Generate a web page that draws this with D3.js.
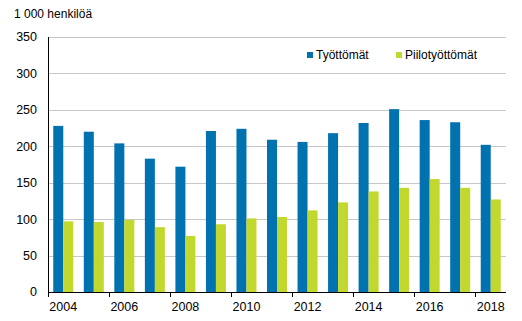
<!DOCTYPE html>
<html>
<head>
<meta charset="utf-8">
<script src="https://cdn.jsdelivr.net/npm/d3@7"></script>
<style>
  body { margin: 0; background: #fff; }
  svg { display: block; font-family: "Liberation Sans", Arial, sans-serif; }
</style>
</head>
<body>
<div id="chart"></div>
<script>
// Työttömät ja piilotyöttömät, 1 000 henkilöä
const years = [2004, 2005, 2006, 2007, 2008, 2009, 2010, 2011, 2012, 2013, 2014, 2015, 2016, 2017, 2018];
const tyottomat = [228, 220, 204, 183, 172, 221, 224, 209, 206, 218, 232, 251, 236, 233, 202];
const piilotyottomat = [97, 96, 99, 89, 77, 93, 101, 103, 112, 123, 138, 143, 155, 143, 127];
const seriesNames = ['Työttömät', 'Piilotyöttömät'];
const colors = ['#0072b0', '#c2d82f'];
const yTicks = [0, 50, 100, 150, 200, 250, 300, 350];

const width = 522, height = 321;
const margin = { top: 37, right: 16, bottom: 29, left: 48 };
const innerW = width - margin.left - margin.right;
const innerH = height - margin.top - margin.bottom;

const svg = d3.select('#chart').append('svg')
    .attr('width', width)
    .attr('height', height);

const g = svg.append('g')
    .attr('transform', `translate(${margin.left},${margin.top})`);

const x = d3.scaleBand()
    .domain(years)
    .range([0, innerW])
    .paddingInner(0.345)
    .paddingOuter(0.1725);

const xInner = d3.scaleBand()
    .domain(seriesNames)
    .range([0, x.bandwidth()]);

const y = d3.scaleLinear()
    .domain([0, 350])
    .range([innerH, 0]);

// gridlines
g.append('g')
    .selectAll('line')
    .data(yTicks.filter(d => d > 0))
    .enter()
    .append('line')
    .attr('x1', 0)
    .attr('x2', innerW)
    .attr('y1', d => Math.round(y(d)) + 0.5)
    .attr('y2', d => Math.round(y(d)) + 0.5)
    .style('stroke', '#c8c8c8')
    .style('stroke-width', 1);

// y labels
g.append('g')
    .selectAll('text')
    .data(yTicks)
    .enter()
    .append('text')
    .attr('x', -11)
    .attr('y', d => y(d))
    .attr('dy', '0.35em')
    .attr('text-anchor', 'end')
    .style('font-size', '12.5px')
    .style('fill', '#000')
    .text(d => d);

// bars
const data = years.map((yr, i) => ({ year: yr, values: [tyottomat[i], piilotyottomat[i]] }));

const groups = g.append('g')
    .selectAll('g')
    .data(data)
    .enter()
    .append('g')
    .attr('transform', d => `translate(${x(d.year)},0)`);

groups.selectAll('rect')
    .data(d => d.values.map((v, k) => ({ key: seriesNames[k], value: v, k: k })))
    .enter()
    .append('rect')
    .attr('x', d => xInner(d.key))
    .attr('width', xInner.bandwidth())
    .attr('y', d => y(d.value))
    .attr('height', d => innerH - y(d.value))
    .style('fill', d => colors[d.k]);

// axes lines
const step = x.step();
g.append('line')
    .attr('x1', 0.5).attr('x2', 0.5)
    .attr('y1', 0).attr('y2', innerH + 5)
    .style('stroke', '#000');
g.append('line')
    .attr('x1', 0).attr('x2', innerW)
    .attr('y1', innerH + 0.5).attr('y2', innerH + 0.5)
    .style('stroke', '#000');

// ticks every second year, at left edge of the category
const labelYears = years.filter(yr => yr % 2 === 0);
g.append('g')
    .selectAll('line')
    .data(labelYears.slice(1))
    .enter()
    .append('line')
    .attr('x1', d => Math.round(x(d) - (step - x.bandwidth()) / 2) + 0.5)
    .attr('x2', d => Math.round(x(d) - (step - x.bandwidth()) / 2) + 0.5)
    .attr('y1', innerH)
    .attr('y2', innerH + 5)
    .style('stroke', '#000');

g.append('g')
    .selectAll('text')
    .data(labelYears)
    .enter()
    .append('text')
    .attr('x', d => x(d) + x.bandwidth() / 2)
    .attr('y', innerH + 19)
    .attr('text-anchor', 'middle')
    .style('font-size', '12.5px')
    .style('fill', '#000')
    .text(d => d);

// unit title
svg.append('text')
    .attr('x', 14)
    .attr('y', 18)
    .style('font-size', '12px')
    .style('fill', '#000')
    .text('1 000 henkilöä');

// legend
const legendX = [307, 396];
const legend = svg.append('g')
    .selectAll('g')
    .data(seriesNames)
    .enter()
    .append('g')
    .attr('transform', (d, i) => `translate(${legendX[i]},52)`);

legend.append('rect')
    .attr('width', 6)
    .attr('height', 6)
    .style('fill', (d, i) => colors[i]);

legend.append('text')
    .attr('x', 9)
    .attr('y', 3)
    .attr('dy', '0.35em')
    .style('font-size', '12px')
    .style('fill', '#000')
    .text(d => d);
</script>
</body>
</html>
